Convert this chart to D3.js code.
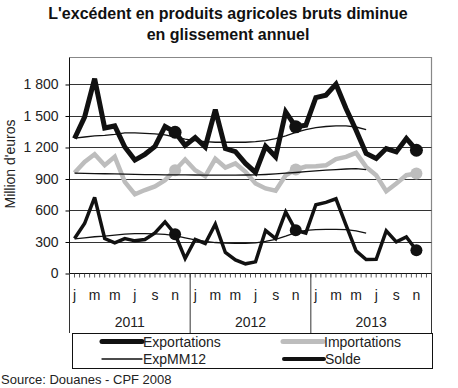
<!DOCTYPE html>
<html>
<head>
<meta charset="utf-8">
<script src="https://cdn.jsdelivr.net/npm/d3@7"></script>
<style>
  body { margin: 0; background: #fff; }
  svg { display: block; font-family: "Liberation Sans", Arial, sans-serif; }
</style>
</head>
<body>
<svg id="chart" width="458" height="388"></svg>
<script>
// Data (Jan 2011 .. Nov 2013), million euros
const years = ['2011', '2012', '2013'];
const monthLabels = ['j', 'm', 'm', 'j', 's', 'n'];
const yTicks = [0, 300, 600, 900, 1200, 1500, 1800];

const exportations = [1285, 1490, 1855, 1385, 1405, 1205, 1080, 1135, 1210, 1400, 1345, 1220,
                      1295, 1205, 1560, 1190, 1160, 1048, 962, 1212, 1111, 1539, 1397, 1412,
                      1676, 1698, 1803, 1571, 1365, 1143, 1095, 1190, 1158, 1286, 1174];
const importations = [960, 1063, 1135, 1031, 1111, 872, 755, 795, 830, 889, 984, 1086,
                      984, 927, 1092, 1009, 1048, 968, 857, 810, 788, 936, 990, 1018,
                      1022, 1030, 1090, 1111, 1149, 1015, 936, 784, 857, 936, 952];
const solde = [333, 476, 725, 333, 292, 333, 311, 324, 387, 492, 374, 143,
               324, 286, 470, 200, 130, 92, 111, 409, 333, 587, 412, 384,
               655, 677, 711, 460, 215, 133, 136, 406, 301, 349, 222];

// 12-month moving averages (end in June 2013)
const expMM12 = [1290, 1300, 1310, 1315, 1325, 1340, 1340, 1335, 1330, 1320, 1300, 1280,
                 1265, 1255, 1250, 1250, 1250, 1250, 1255, 1265, 1285, 1310, 1345, 1370,
                 1390, 1400, 1405, 1405, 1395, 1370];
const impMM12 = [955, 953, 951, 950, 948, 946, 944, 942, 941, 940, 940, 939,
                 938, 937, 936, 936, 937, 938, 940, 943, 948, 955, 962, 970,
                 977, 984, 990, 995, 998, 990];
const soldeMM12 = [330, 340, 350, 355, 365, 375, 380, 380, 378, 372, 360, 340,
                   320, 305, 295, 290, 288, 288, 292, 305, 325, 355, 390, 410,
                   418, 420, 420, 418, 405, 385];

const markIdx = [10, 22, 34]; // November points

const svg = d3.select('#chart');
const pLeft = 69.5, pRight = 431.5, pTop = 57.5, pBottom = 273.5;

const x = d3.scaleBand().domain(d3.range(36)).range([pLeft, pRight]);
const cx = i => x(i) + x.bandwidth() / 2;
const y = d3.scaleLinear().domain([0, 2057]).range([pBottom, pTop]);

// Title
svg.append('text').attr('x', 228).attr('y', 18.5).attr('text-anchor', 'middle')
  .attr('font-weight', 'bold').attr('font-size', 16).attr('fill', '#111')
  .text("L'excédent en produits agricoles bruts diminue");
svg.append('text').attr('x', 228).attr('y', 40).attr('text-anchor', 'middle')
  .attr('font-weight', 'bold').attr('font-size', 16).attr('fill', '#111')
  .text('en glissement annuel');

// Frame (top / right)
svg.append('path')
  .attr('d', `M${pLeft},${pTop}H${pRight}V${pBottom}`)
  .attr('fill', 'none').attr('stroke', '#888').attr('stroke-width', 1.2);

// Gridlines
svg.append('g').selectAll('line').data(yTicks.filter(d => d > 0)).join('line')
  .attr('x1', pLeft).attr('x2', pRight)
  .attr('y1', d => Math.round(y(d)) + 0.5).attr('y2', d => Math.round(y(d)) + 0.5)
  .attr('stroke', '#333').attr('stroke-width', 1);

// Y axis
const yAxis = d3.axisLeft(y).tickValues(yTicks).tickSize(4).tickPadding(7)
  .tickFormat(d => d3.format(',')(d).replace(',', ' '));
const gy = svg.append('g').attr('transform', `translate(${pLeft},0)`).call(yAxis);
gy.select('.domain').attr('d', `M0,${pTop}V${pBottom}`).attr('stroke', '#111');
gy.selectAll('text').attr('font-size', 14).attr('fill', '#222')
  .attr('font-family', '"Liberation Sans", Arial, sans-serif');

svg.append('text')
  .attr('transform', `translate(15,164) rotate(-90)`)
  .attr('text-anchor', 'middle').attr('font-size', 14).attr('fill', '#222')
  .text("Million d'euros");

// X axis: baseline, half-month ticks, year separators
svg.append('line').attr('x1', pLeft).attr('x2', pRight).attr('y1', pBottom).attr('y2', pBottom)
  .attr('stroke', '#111');
const halfTicks = d3.range(73).map(k => pLeft + k * x.bandwidth() / 2);
svg.append('g').selectAll('line').data(halfTicks).join('line')
  .attr('x1', d => d).attr('x2', d => d)
  .attr('y1', pBottom).attr('y2', pBottom + 4)
  .attr('stroke', '#333').attr('stroke-width', 0.8);
const yearEdges = d3.range(4).map(k => k < 3 ? x(k * 12) : pRight);
svg.append('g').selectAll('line').data(yearEdges).join('line')
  .attr('x1', d => d).attr('x2', d => d)
  .attr('y1', pBottom).attr('y2', 333)
  .attr('stroke', '#333').attr('stroke-width', 1);

years.forEach((yr, yi) => {
  monthLabels.forEach((m, mi) => {
    svg.append('text').attr('x', cx(yi * 12 + mi * 2)).attr('y', 300)
      .attr('text-anchor', 'middle').attr('font-size', 14).attr('fill', '#222').text(m);
  });
  svg.append('text').attr('x', (yearEdges[yi] + yearEdges[yi + 1]) / 2).attr('y', 327)
    .attr('text-anchor', 'middle').attr('font-size', 14).attr('fill', '#222').text(yr);
});

// Series
const line = d3.line().x((d, i) => cx(i)).y(d => y(d));

function drawSeries(data, color, width) {
  svg.append('path').datum(data).attr('d', line)
    .attr('fill', 'none').attr('stroke', color).attr('stroke-width', width)
    .attr('stroke-linejoin', 'miter').attr('stroke-miterlimit', 3);
}
function drawDots(data, color, r) {
  svg.append('g').selectAll('circle').data(markIdx).join('circle')
    .attr('cx', i => cx(i)).attr('cy', i => y(data[i])).attr('r', r).attr('fill', color);
}

drawSeries(importations, '#bdbdbd', 4.5);
drawDots(importations, '#bdbdbd', 6);
drawSeries(exportations, '#111', 5);
drawDots(exportations, '#111', 6.5);
drawSeries(solde, '#111', 3.5);
drawDots(solde, '#111', 6);

[expMM12, impMM12, soldeMM12].forEach(d => drawSeries(d, '#111', 1.3));

// Legend
svg.append('rect').attr('x', 72.5).attr('y', 333.5).attr('width', 360).attr('height', 35)
  .attr('fill', '#fff').attr('stroke', '#111').attr('stroke-width', 1);

const legend = [
  { name: 'Exportations', color: '#111', w: 5, lx: 102, ly: 341.5 },
  { name: 'Importations', color: '#bdbdbd', w: 5, lx: 283, ly: 341.5 },
  { name: 'ExpMM12', color: '#111', w: 1.3, lx: 102, ly: 359 },
  { name: 'Solde', color: '#111', w: 4, lx: 284, ly: 359 }
];
legend.forEach(l => {
  svg.append('line').attr('x1', l.lx).attr('x2', l.lx + 40).attr('y1', l.ly).attr('y2', l.ly)
    .attr('stroke', l.color).attr('stroke-width', l.w).attr('stroke-linecap', 'round');
  svg.append('text').attr('x', l.lx + 41).attr('y', l.ly + 5)
    .attr('font-size', 14).attr('fill', '#222').text(l.name);
});

// Source
svg.append('text').attr('x', 1).attr('y', 384).attr('font-size', 13).attr('fill', '#222')
  .text('Source: Douanes - CPF 2008');
</script>
</body>
</html>
